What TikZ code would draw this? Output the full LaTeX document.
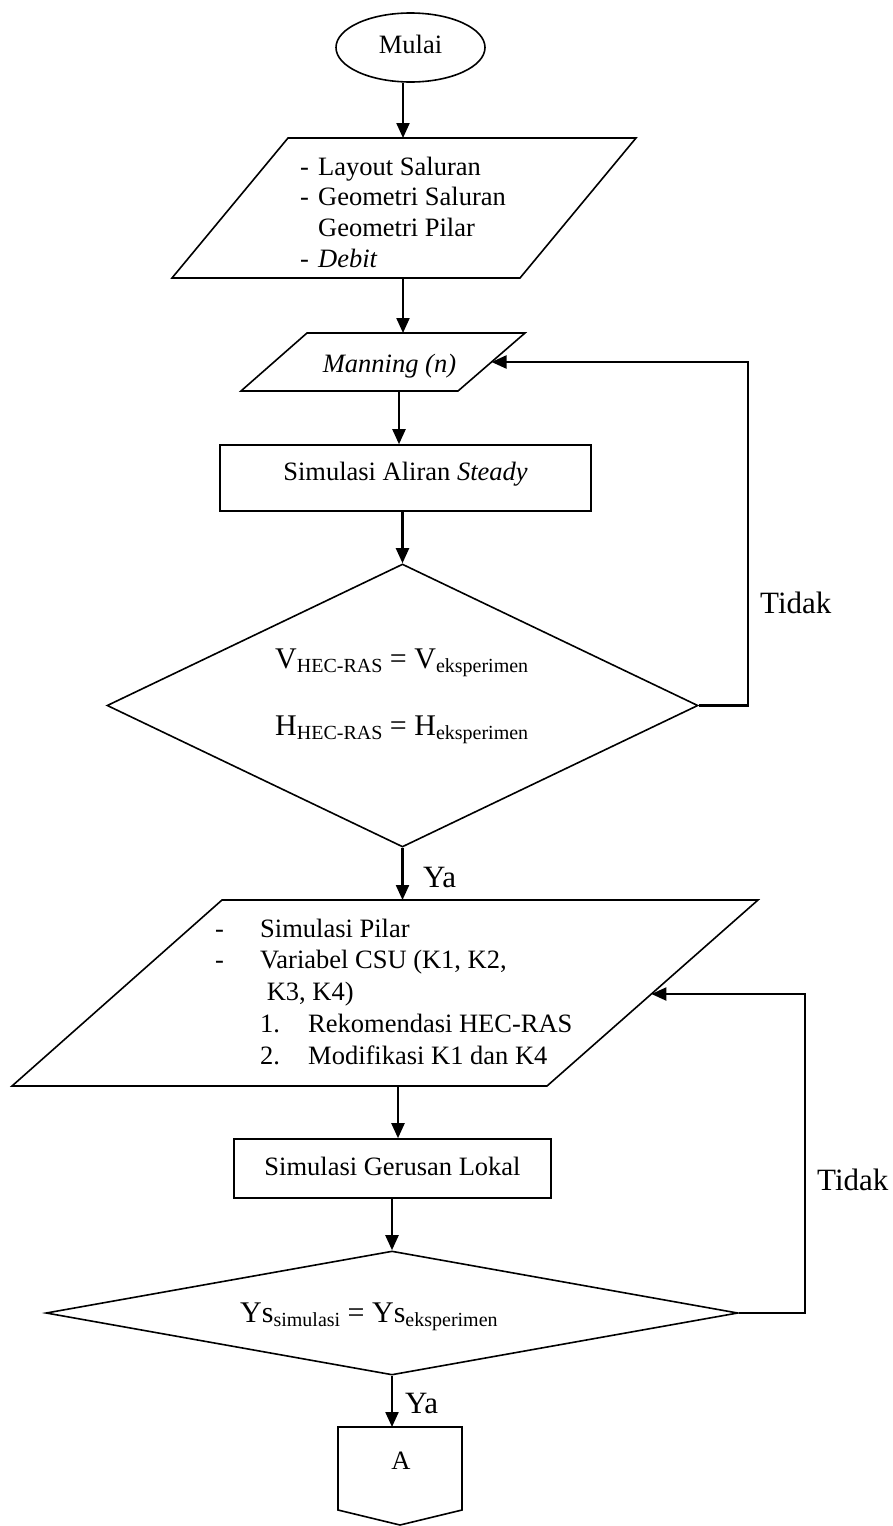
\documentclass[tikz,border=0pt]{standalone}
\usepackage{fontspec}
\setmainfont{Liberation Serif}
\usetikzlibrary{arrows.meta,shapes.geometric}
\newcommand\mysub[1]{\raisebox{-4pt}{\fontsize{20}{24}\selectfont #1}}
\begin{document}
\begin{tikzpicture}[x=1pt,y=-1pt,
  shp/.style={draw, line width=1.6pt},
  arr/.style={line width=2.2pt, -{Triangle[length=15pt,width=13pt]}},
  lbl/.style={font=\fontsize{31}{36}\selectfont, inner sep=0, anchor=base west},
  txt/.style={font=\fontsize{26.5}{31}\selectfont, inner sep=0},
  eqn/.style={font=\fontsize{30}{36}\selectfont, inner sep=0, anchor=base west},
  line join=miter]
\useasboundingbox (0,0) rectangle (893,1526);

% Start
\node[shp, ellipse, txt, minimum width=149pt, minimum height=69pt, text height=18pt, text depth=7pt] (mulai) at (410.5,47.5) {Mulai};

% Input 1
\draw[shp] (288,138) -- (636,138) -- (520,278) -- (172,278) -- cycle;
\coordinate (p1n) at (403,138);
\coordinate (p1s) at (403,278);
\node[txt, align=left, anchor=west, font=\fontsize{26.5}{30.7}\selectfont] (p1txt) at (300,212)
  {\makebox[18pt][l]{-}Layout Saluran\\\makebox[18pt][l]{-}Geometri Saluran\\\hspace*{18pt}Geometri Pilar\\\makebox[18pt][l]{-}\textit{Debit}};

% Manning
\draw[shp] (307,333) -- (525,333) -- (458,391) -- (241,391) -- cycle;
\coordinate (mann) at (403,333);
\coordinate (mans) at (399,391);
\coordinate (mane) at (491.5,362);
\node[txt, anchor=base] (mantxt) at (389.5,372) {\textit{Manning (n)}};

% Process 1
\node[shp, txt, minimum width=371pt, minimum height=66pt, text height=18pt, text depth=14pt] (r1) at (405.5,478) {Simulasi Aliran \textit{Steady}};

% Decision 1
\node[shp, diamond, minimum width=591pt, minimum height=283pt, inner sep=0] (d1) at (402.5,705.5) {};
\node[eqn] (vtxt) at (275,668) {V\mysub{HEC-RAS} = V\mysub{eksperimen}};
\node[eqn] (htxt) at (275,735) {H\mysub{HEC-RAS} = H\mysub{eksperimen}};

% Input 2
\draw[shp] (222,900) -- (758,900) -- (547,1086) -- (12,1086) -- cycle;
\coordinate (p2n) at (403,900);
\coordinate (p2s) at (398,1086);
\coordinate (p2e) at (651.4,994);
\node[txt, align=left, anchor=west, font=\fontsize{26.5}{31.75}\selectfont] (p2txt) at (215,991.5)
  {\makebox[45pt][l]{-}Simulasi Pilar\\\makebox[45pt][l]{-}Variabel CSU (K1, K2,\\\hspace*{45pt} K3, K4)\\\hspace*{45pt}\makebox[48pt][l]{1.}Rekomendasi HEC-RAS\\\hspace*{45pt}\makebox[48pt][l]{2.}Modifikasi K1 dan K4};

% Process 2
\node[shp, txt, minimum width=317pt, minimum height=59pt, text height=18pt, text depth=5pt] (r2) at (392.5,1168.5) {Simulasi Gerusan Lokal};

% Decision 2
\node[shp, diamond, minimum width=692pt, minimum height=124pt, inner sep=0] (d2) at (392,1313) {};
\node[eqn] (ystxt) at (240,1322) {Ys\mysub{simulasi} = Ys\mysub{eksperimen}};

% Off-page connector
\draw[shp] (338,1427) -- (462,1427) -- (462,1510) -- (400,1525) -- (338,1510) -- cycle;
\coordinate (An) at (396,1427);
\node[txt, anchor=base] (atxt) at (401,1469) {A};

% Loop corners
\coordinate (t1) at (748,362);
\coordinate (t2) at (805,994);

% Connectors
\draw[arr] (mulai.south -| p1n) -- (p1n);
\draw[arr] (p1s) -- (mann);
\draw[arr] (mans) -- (mans |- r1.north);
\draw[arr] (r1.south -| d1.north) -- (d1.north);
\draw[arr] (d1.south) -- (d1.south |- p2n);
\node[lbl] (ya1) at (423,887) {Ya};
\draw[arr] (d1.east) -| (t1) -- (mane);
\node[lbl] (tidak1) at (760,613) {Tidak};
\draw[arr] (p2s) -- (p2s |- r2.north);
\draw[arr] (r2.south -| d2.north) -- (d2.north);
\draw[arr] (d2.east) -| (t2) -- (p2e);
\node[lbl] (tidak2) at (817,1190) {Tidak};
\draw[arr] (d2.south) -- (d2.south |- An);
\node[lbl] (ya2) at (405,1413) {Ya};
\end{tikzpicture}
\end{document}
